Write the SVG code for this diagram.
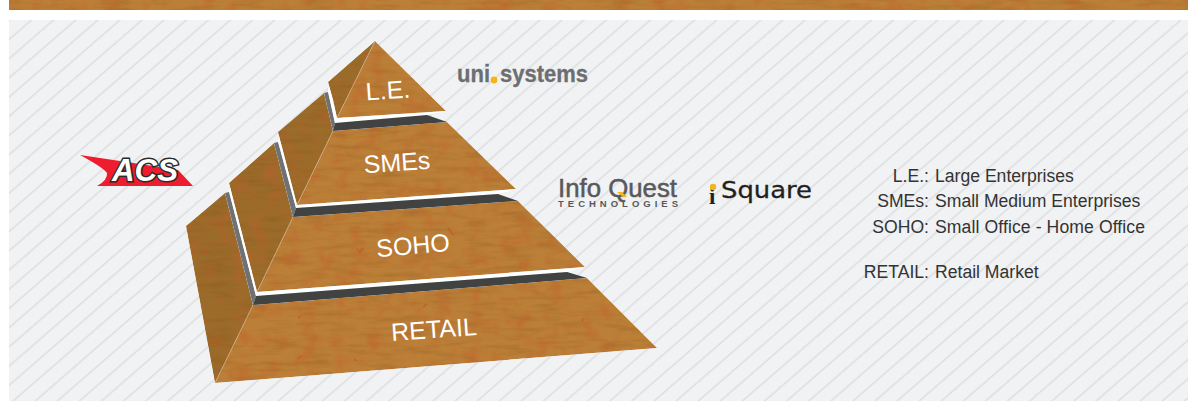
<svg xmlns="http://www.w3.org/2000/svg" width="1188" height="401" viewBox="0 0 1188 401">
<style>
.front{fill:#bb7f37;filter:url(#wood)}
.side{fill:#9b6b2a;filter:url(#wood)}
.dark{fill:#414242}
.gray{fill:#6e7274}
.white{fill:#fff}
.speck{fill:none;stroke:#c4512c;stroke-width:1.6;opacity:.6}
.lbl{font:25px "Liberation Sans",Arial,sans-serif;fill:#fff;text-anchor:middle}
.leg{font:17.6px "Liberation Sans",Arial,sans-serif;fill:#333}
.end{text-anchor:end}
.edge{fill:none;stroke:#c9a27a;stroke-width:.7}
</style>
<defs>
<pattern id="stripes" width="10" height="14.5" patternUnits="userSpaceOnUse" patternTransform="rotate(-41)">
<rect width="10" height="14.5" fill="#f1f2f3"/>
<rect width="10" height="1.5" y="6" fill="#dcdedf"/>
</pattern>
<filter id="wood" x="0" y="0" width="1" height="1" color-interpolation-filters="sRGB">
<feTurbulence type="fractalNoise" baseFrequency="0.03 0.18" numOctaves="3" seed="4" result="grain"/>
<feColorMatrix in="grain" type="matrix" values="0 0 0 0 0.50  0 0 0 0 0.30  0 0 0 0 0.08  0.6 0 0 0 -0.27" result="g"/>
<feTurbulence type="fractalNoise" baseFrequency="0.06" numOctaves="4" seed="11" result="blot"/>
<feColorMatrix in="blot" type="matrix" values="0 0 0 0 0.76  0 0 0 0 0.36  0 0 0 0 0.16  0 1.1 0 0 -0.52" result="b"/>
<feMerge result="m"><feMergeNode in="SourceGraphic"/><feMergeNode in="g"/><feMergeNode in="b"/></feMerge>
<feComposite in="m" in2="SourceAlpha" operator="in"/>
</filter>
</defs>
<rect width="1188" height="401" fill="#fff"/>
<g id="top-band"><rect x="9" y="0" width="1179" height="10" class="front"/></g>
<rect id="panel" x="9" y="20" width="1179" height="381" fill="url(#stripes)"/>

<g id="tier-retail">
<polygon class="side" points="186,226 225,193 253,305 215,383"/>
<polygon class="front" points="253,305 587,278 657,348 215,383"/>
<path class="edge" d="M253 305L215 383"/>
<polygon class="gray" points="225,193 229,192 256,296 253,305"/>
<polygon class="white" points="229,191 233,183 257,292 585,267 567,272 256,296"/>
<polygon class="dark" points="253,305 256,296 567,272 587,278"/>
<path class="speck" d="M297 359l5-3M357 361l-3-2M427 304l-4 3M583 318l-1 4M202 250l3 3l3-3M298 318l3-2"/>
<text class="lbl" x="434" y="338" transform="rotate(-4 434 330)">RETAIL</text>
</g>
<g id="tier-soho">
<polygon class="side" points="229,183 274,143 293,217 257,292"/>
<polygon class="front" points="293,217 518,201 585,267 257,292"/>
<path class="edge" d="M293 217L257 292"/>
<polygon class="gray" points="274,143 278,142 296,208 293,217"/>
<polygon class="white" points="278,141 281,133 297,205 516,189 498,194 296,208"/>
<polygon class="dark" points="293,217 296,208 498,194 518,201"/>
<path class="speck" d="M357 249l3 3l3-4M448 228l6 8"/>
<text class="lbl" x="413" y="254" transform="rotate(-5 413 246)">SOHO</text>
</g>
<g id="tier-smes">
<polygon class="side" points="278,132 324,93 333,131 297,205"/>
<polygon class="front" points="333,131 447,122 516,189 297,205"/>
<path class="edge" d="M333 131L297 205"/>
<polygon class="gray" points="324,93 328,92 335,123 333,131"/>
<polygon class="white" points="328,91 329,83 337,118 446,111 427,115 335,123"/>
<polygon class="dark" points="333,131 335,123 427,115 447,122"/>
<text class="lbl" x="397" y="171" transform="rotate(-4 397 163)">SMEs</text>
</g>
<g id="tier-le">
<polygon class="side" points="328,82 375,41 337,118 333,100"/>
<polygon class="front" points="375,41 446,111 337,118"/>
<path class="edge" d="M375 41L337 118"/>
<text class="lbl" x="388" y="99" transform="rotate(-4 388 91)">L.E.</text>
</g>

<g id="logo-acs">
<path d="M80 155L140 164L178 170L193 186L97 186Q108 180 107 173Q104 168 80 155Z" fill="#ed1c2e"/>
<text x="112" y="181" font-family="Liberation Sans,Arial,sans-serif" font-size="32" font-weight="bold" font-style="italic" fill="#fff" stroke="#2a2a2a" stroke-width="3" paint-order="stroke" textLength="66" lengthAdjust="spacingAndGlyphs">ACS</text>
</g>
<g id="logo-unisystems">
<text x="457" y="82" font-family="Liberation Sans,Arial,sans-serif" font-size="24" font-weight="bold" fill="#6d6e71" stroke="#6d6e71" stroke-width=".3" textLength="33" lengthAdjust="spacingAndGlyphs">uni</text>
<circle cx="494" cy="80" r="3.4" fill="#f5b417"/>
<text x="500" y="82" font-family="Liberation Sans,Arial,sans-serif" font-size="24" font-weight="bold" fill="#6d6e71" stroke="#6d6e71" stroke-width=".3" textLength="88" lengthAdjust="spacingAndGlyphs">systems</text>
</g>
<g id="logo-infoquest">
<text x="558" y="197" font-family="Liberation Sans,Arial,sans-serif" font-size="25" fill="#58595b" stroke="#58595b" stroke-width=".5" textLength="119" lengthAdjust="spacingAndGlyphs">Info Quest</text>
<path d="M617 192L623 197L627 197L622 192Z" fill="#f5b417"/>
<text x="558" y="207" font-family="Liberation Sans,Arial,sans-serif" font-size="9.5" font-weight="bold" fill="#58595b" textLength="120" lengthAdjust="spacing">TECHNOLOGIES</text>
</g>
<g id="logo-isquare">
<text x="709" y="204" font-family="Liberation Serif,serif" font-size="23" font-weight="bold" fill="#231f20">i</text>
<circle cx="713" cy="187" r="3.2" fill="#f5b417"/>
<text x="721" y="198" font-family="DejaVu Sans,sans-serif" font-size="23" fill="#231f20" stroke="#231f20" stroke-width=".3" textLength="91" lengthAdjust="spacingAndGlyphs">Square</text>
</g>
<g id="legend">
<text class="leg end" x="929" y="182">L.E.:</text><text class="leg" x="935" y="182">Large Enterprises</text>
<text class="leg end" x="929" y="207">SMEs:</text><text class="leg" x="935" y="207">Small Medium Enterprises</text>
<text class="leg end" x="929" y="233">SOHO:</text><text class="leg" x="935" y="233" textLength="210">Small Office - Home Office</text>
<text class="leg end" x="929" y="278">RETAIL:</text><text class="leg" x="935" y="278">Retail Market</text>
</g>
</svg>
